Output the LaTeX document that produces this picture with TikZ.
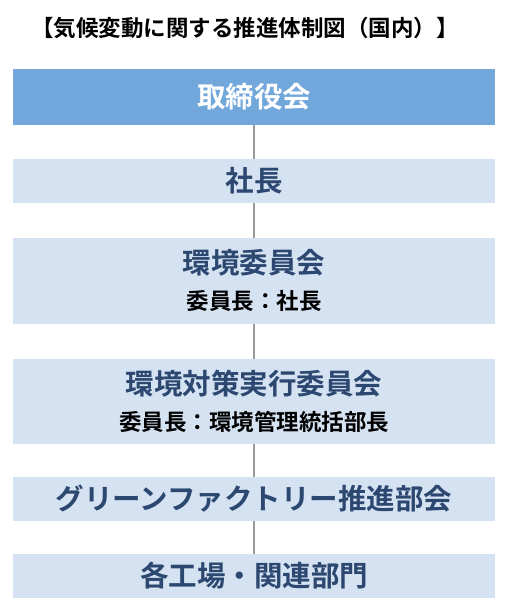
\documentclass[tikz,border=0pt]{standalone}
\usepackage{fontspec}
\setmainfont{Noto Sans CJK JP}[BoldFont={Noto Sans CJK JP Bold}]
\definecolor{topfill}{HTML}{72A7DB}
\definecolor{boxfill}{HTML}{D5E2F2}
\definecolor{boxtext}{HTML}{2C4770}
\definecolor{linegray}{HTML}{9A9A9A}
\tikzset{
  box/.style={rectangle, inner sep=0pt, minimum width=482pt, fill=boxfill, text=boxtext, font=\bfseries\fontsize{28.5}{32}\selectfont},
  topbox/.style={box, fill=topfill, text=white},
  subtext/.style={inner sep=0pt, text=black, font=\bfseries\fontsize{22.5}{26}\selectfont},
  maintext/.style={inner sep=0pt, text=boxtext, font=\bfseries\fontsize{28.5}{32}\selectfont},
  conn/.style={draw=linegray, line width=1.2pt}
}
\begin{document}
\begin{tikzpicture}[x=1pt,y=-1pt]
\useasboundingbox (0,0) rectangle (510,610);
\node[inner sep=0pt, font=\bfseries\fontsize{22.5}{26}\selectfont] (title) at (245,28) {【気候変動に関する推進体制図（国内）】};
\node[topbox, minimum height=56pt] (b1) at (254,97) {取締役会};
\node[box, minimum height=44pt] (b2) at (254,181) {社長};
\node[box, minimum height=86pt] (b3) at (254,281) {};
\node[maintext] (t3) at (254,263) {環境委員会};
\node[subtext] (s3) at (254,301) {委員長：社長};
\node[box, minimum height=85pt] (b4) at (254,401.5) {};
\node[maintext] (t4) at (254,384) {環境対策実行委員会};
\node[subtext] (s4) at (254,422) {委員長：環境管理統括部長};
\node[box, minimum height=44pt] (b5) at (254,499) {グリーンファクトリー推進部会};
\node[box, minimum height=44pt] (b6) at (254,576) {各工場・関連部門};
\draw[conn] (b1.south) -- (b2.north);
\draw[conn] (b2.south) -- (b3.north);
\draw[conn] (b3.south) -- (b4.north);
\draw[conn] (b4.south) -- (b5.north);
\draw[conn] (b5.south) -- (b6.north);
\end{tikzpicture}
\end{document}
